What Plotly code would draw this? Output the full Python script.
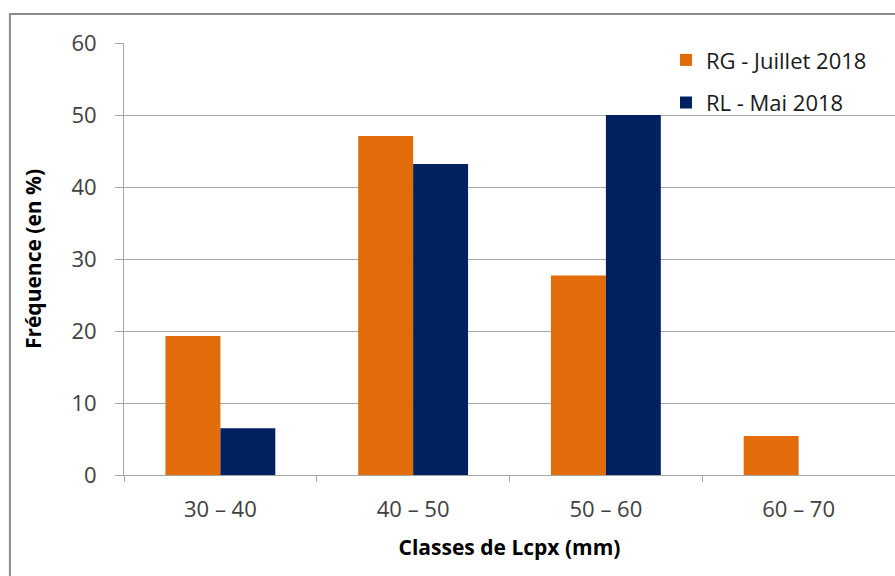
import plotly.graph_objects as go

# Size classes and frequencies (%)
classes = ["30 – 40", "40 – 50", "50 – 60", "60 – 70"]
rg_juillet_2018 = [19.3, 47.1, 27.7, 5.4]
rl_mai_2018 = [6.5, 43.2, 50.0, 0.0]

series_names = ["RG - Juillet 2018", "RL - Mai 2018"]
series_colors = ["#E36C0A", "#002060"]

FONT = "Open Sans"
GRID = "#A6A6A6"

fig = go.Figure()
for name, vals, col, grp in zip(series_names, [rg_juillet_2018, rl_mai_2018],
                                series_colors, ["a", "b"]):
    fig.add_trace(go.Bar(
        x=classes, y=vals, name=name, legendgroup=grp,
        marker=dict(color=col, line=dict(width=0)),
    ))

# Outer chart frame
fig.add_shape(type="rect", xref="paper", yref="paper",
              x0=-0.148, y0=-0.4, x1=1.2, y1=1.067,
              line=dict(color="#8C8C8C", width=2), layer="below")

fig.update_layout(
    width=895, height=576,
    margin=dict(l=124, r=0, t=43, b=101),
    paper_bgcolor="white", plot_bgcolor="white",
    barmode="group", bargap=0.43, bargroupgap=0,
    font=dict(family=FONT, size=21, color="#404040"),
    showlegend=True,
    legend=dict(
        x=0.703, y=1.009, xanchor="left", yanchor="top",
        font=dict(family=FONT, size=22, color="#1A1A1A"),
        traceorder="grouped", tracegroupgap=11,
        bgcolor="rgba(0,0,0,0)", itemwidth=30,
    ),
    xaxis=dict(
        type="category", range=[-0.5, 3.5],
        showline=True, linecolor=GRID, linewidth=1,
        ticks="outside", tickson="boundaries", ticklen=6, tickcolor=GRID,
        ticklabelstandoff=15,
        showgrid=False,
        tickfont=dict(family=FONT, size=22, color="#404040"),
        title=dict(text="<b>Classes de Lcpx (mm)</b>", standoff=17,
                   font=dict(family=FONT, size=21, color="#000000")),
    ),
    yaxis=dict(
        range=[0, 60], dtick=10,
        showline=True, linecolor=GRID, linewidth=1,
        ticks="outside", ticklen=8, tickcolor=GRID,
        ticklabelstandoff=14,
        showgrid=True, gridcolor=GRID, gridwidth=1,
        zeroline=False,
        tickfont=dict(family=FONT, size=22, color="#404040"),
        title=dict(text="<b>Fréquence (en %)</b>", standoff=24,
                   font=dict(family=FONT, size=21, color="#000000")),
    ),
)

fig.write_html("out.html")
